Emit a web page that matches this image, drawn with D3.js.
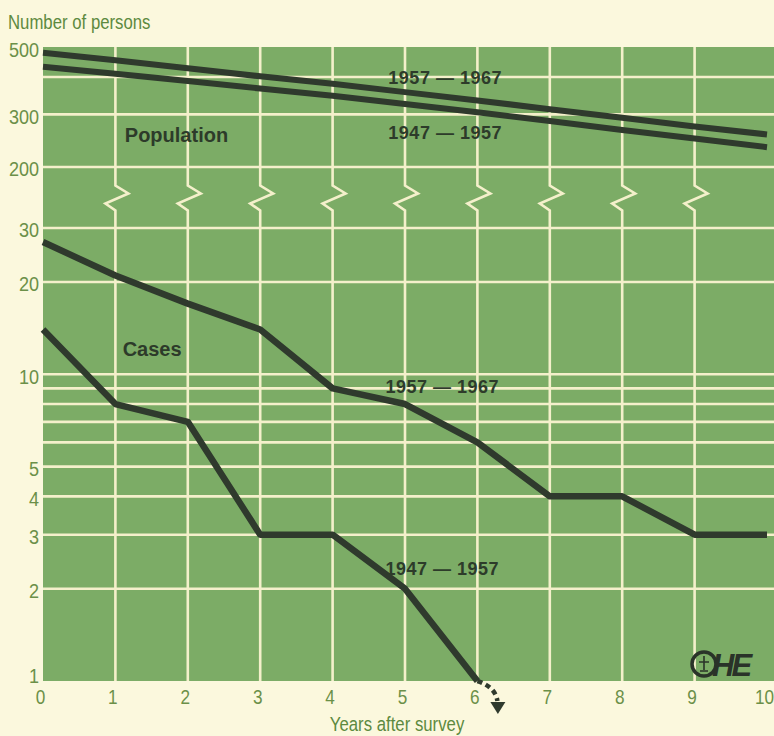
<!DOCTYPE html>
<html>
<head>
<meta charset="utf-8">
<script src="https://cdn.jsdelivr.net/npm/d3@7/dist/d3.min.js"></script>
<style>
  html, body { margin: 0; padding: 0; background: #fbf8dd; }
  svg { display: block; }
  .cond { font-family: "Liberation Sans", Arial, sans-serif; transform-box: fill-box; }
  .lbl { font-family: "Liberation Sans", Arial, sans-serif; font-weight: bold; }
</style>
</head>
<body>
<svg id="chart" width="774" height="736"></svg>
<script>
// Years after the survey
const years = [0, 1, 2, 3, 4, 5, 6, 7, 8, 9, 10];

// Population still under observation (upper panel)
const pop5767 = [482, 455, 428, 402, 380, 356, 334, 312, 292, 273, 257];
const pop4757 = [433, 410, 388, 366, 346, 325, 305, 285, 266, 249, 233];

// Cases remaining (lower panel)
const cases5767 = [27, 21, 17, 14, 9, 8, 6, 4, 4, 3, 3];
const cases4757 = [14, 8, 7, 3, 3, 2, 1];

// Tick labels
const xTicks = [0, 1, 2, 3, 4, 5, 6, 7, 8, 9, 10];
const upperTicks = [500, 300, 200];
const lowerTicks = [30, 20, 10, 5, 4, 3, 2, 1];
const upperGrid = [400, 300, 200];
const lowerGrid = [30, 20, 10, 9, 8, 7, 6, 5, 4, 3, 2];

const svg = d3.select("#chart");
const green = "#7cac66";
const gridCol = "#f4f0cb";
const ink = "#2f3a2d";
const olive = "#6b9048";
const narrow = 0.86; // horizontal squeeze for the condensed face

const plotLeft = 43, plotRight = 774, plotTop = 47, plotBottom = 681;

const x = d3.scaleLinear().domain([0, 10]).range([43, 767]);
const yTop = d3.scaleLog().domain([200, 500]).range([167, 48]);
const yBot = d3.scaleLog().domain([1, 30]).range([plotBottom, 228]);

// Green field
svg.append("rect")
  .attr("x", plotLeft).attr("y", plotTop)
  .attr("width", plotRight - plotLeft).attr("height", plotBottom - plotTop)
  .attr("fill", green);

// Horizontal grid lines
const grid = svg.append("g").attr("stroke", gridCol).attr("stroke-width", 2.6);
upperGrid.forEach(v => grid.append("line")
  .attr("x1", plotLeft).attr("x2", plotRight)
  .attr("y1", yTop(v)).attr("y2", yTop(v)));
lowerGrid.forEach(v => grid.append("line")
  .attr("x1", plotLeft).attr("x2", plotRight)
  .attr("y1", yBot(v)).attr("y2", yBot(v)));

// Vertical grid lines with a zigzag break between the two panels
const gapMid = (yTop(200) + yBot(30)) / 2;
d3.range(1, 10).forEach(i => {
  const gx = x(i);
  const pts = [
    [gx, plotTop], [gx, gapMid - 12], [gx + 13, gapMid - 4],
    [gx - 10, gapMid + 6], [gx, gapMid + 13], [gx, plotBottom]
  ];
  grid.append("path")
    .attr("d", d3.line()(pts))
    .attr("fill", "none");
});

// Series lines
const lineUpper = d3.line().x((d, i) => x(years[i])).y(d => yTop(d));
const lineLower = d3.line().x((d, i) => x(years[i])).y(d => yBot(d));

const series = svg.append("g")
  .attr("fill", "none").attr("stroke", ink)
  .attr("stroke-linejoin", "round").attr("stroke-linecap", "butt");
series.append("path").attr("d", lineUpper(pop5767)).attr("stroke-width", 6);
series.append("path").attr("d", lineUpper(pop4757)).attr("stroke-width", 6);
series.append("path").attr("d", lineLower(cases5767)).attr("stroke-width", 6.5);
series.append("path").attr("d", lineLower(cases4757)).attr("stroke-width", 6.5);

// Dotted continuation below 1 case, with arrowhead
const endX = x(cases4757.length - 1), endY = yBot(cases4757[cases4757.length - 1]);
svg.append("path")
  .attr("d", `M${endX},${endY} Q${endX + 18},${endY + 6} ${endX + 20},${endY + 20}`)
  .attr("fill", "none").attr("stroke", ink).attr("stroke-width", 4.5)
  .attr("stroke-dasharray", "5,4");
svg.append("path")
  .attr("d", `M${endX + 13},${endY + 21} L${endX + 28},${endY + 21} L${endX + 20.5},${endY + 33} Z`)
  .attr("fill", ink);

// Y axis labels
const yAxisTop = d3.axisLeft(yTop).tickValues(upperTicks).tickFormat(d3.format("d")).tickSize(0).tickPadding(4);
const yAxisBot = d3.axisLeft(yBot).tickValues(lowerTicks).tickFormat(d3.format("d")).tickSize(0).tickPadding(4);
[yAxisTop, yAxisBot].forEach(ax => {
  const g = svg.append("g").attr("transform", `translate(${plotLeft},2)`).call(ax);
  g.select(".domain").remove();
  g.selectAll("text").attr("class", "cond")
    .attr("font-size", 21).attr("fill", olive)
    .style("transform-origin", "100% 50%")
    .style("transform", `scaleX(${narrow})`);
  // the bottom label sits just above the base of the field
  g.selectAll(".tick").filter(d => d === 1).select("text").attr("y", -7);
});

// X axis labels
const xAxis = d3.axisBottom(x).tickValues(xTicks).tickSize(0).tickPadding(9);
const gx = svg.append("g").attr("transform", `translate(-3,${plotBottom})`).call(xAxis);
gx.select(".domain").remove();
gx.selectAll("text").attr("class", "cond").attr("font-size", 20).attr("fill", olive)
  .style("transform-origin", "50% 50%")
  .style("transform", `scaleX(${narrow})`);

// Axis titles
svg.append("text").attr("class", "cond")
  .attr("x", 8).attr("y", 29).attr("font-size", 19.5).attr("fill", "#5d8a3f")
  .style("transform-origin", "0% 50%")
  .style("transform", `scaleX(${narrow})`)
  .text("Number of persons");
svg.append("text").attr("class", "cond")
  .attr("x", 397).attr("y", 731).attr("text-anchor", "middle")
  .attr("font-size", 19.5).attr("fill", "#5d8a3f")
  .style("transform-origin", "50% 50%")
  .style("transform", `scaleX(${narrow})`)
  .text("Years after survey");

// Series labels
const labels = svg.append("g").attr("class", "lbl").attr("fill", "#2d3b2a");
labels.append("text").attr("x", x(1.13)).attr("y", yTop(255)).attr("dy", "0.35em")
  .attr("font-size", 20).text("Population");
labels.append("text").attr("x", x(1.1)).attr("y", yBot(12.1)).attr("dy", "0.35em")
  .attr("font-size", 20).text("Cases");
const years5767 = "1957 \u2014 1967", years4757 = "1947 \u2014 1957";
[[x(4.77), yTop(398), years5767], [x(4.77), yTop(261), years4757],
 [x(4.73), yBot(9.1), years5767], [x(4.73), yBot(2.32), years4757]].forEach(([lx, ly, t]) =>
  labels.append("text").attr("x", lx).attr("y", ly).attr("dy", "0.35em")
    .attr("font-size", 18).attr("letter-spacing", 0.5).text(t));

// Publisher mark
const logo = svg.append("g").attr("transform", "translate(690,678)");
logo.append("circle").attr("cx", 14).attr("cy", -14).attr("r", 12)
  .attr("fill", "none").attr("stroke", "#2a3329").attr("stroke-width", 3.5);
logo.append("path").attr("d", "M14,-22 L14,-8 M9,-16 L19,-16 M10,-7 L18,-7")
  .attr("stroke", "#2a3329").attr("stroke-width", 1.6).attr("fill", "none");
logo.append("text").attr("x", 22).attr("y", -2)
  .attr("font-family", "Liberation Sans, Arial, sans-serif").attr("font-style", "italic")
  .attr("font-weight", "bold")
  .attr("font-size", 31).attr("fill", "#2a3329").attr("letter-spacing", -3)
  .text("HE");
</script>
</body>
</html>
